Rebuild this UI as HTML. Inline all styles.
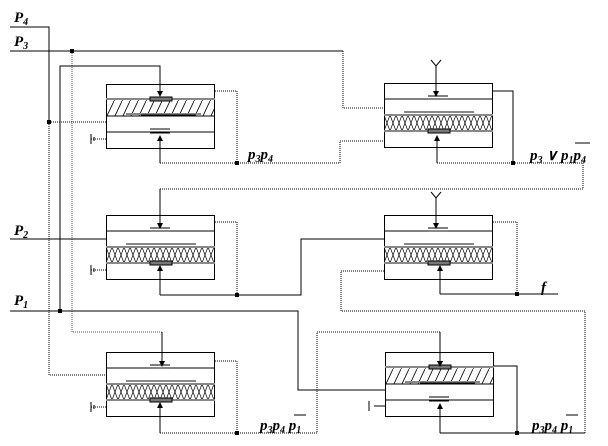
<!DOCTYPE html>
<html><head><meta charset="utf-8"><style>
html,body{margin:0;padding:0;background:#fff}
svg{display:block}
text{font-family:"Liberation Serif",serif;font-weight:bold;font-style:italic;font-size:15px}
</style></head><body>
<svg width="608" height="446" viewBox="0 0 608 446" xmlns="http://www.w3.org/2000/svg">
<defs>
<pattern id="diag" width="8" height="17" patternUnits="userSpaceOnUse">
<path d="M0,17 L8,0" stroke="#000" stroke-width="0.8"/>
</pattern>
<pattern id="xh" width="12" height="16" patternUnits="userSpaceOnUse">
<path d="M0,0 L6,16 L12,0 M0,16 L6,0 L12,16" stroke="#000" stroke-width="0.7" fill="none"/>
</pattern>
<marker id="ar" markerWidth="6" markerHeight="6" refX="5" refY="3" orient="auto"><path d="M0,0 L6,3 L0,6 z" fill="#000"/></marker>
<g id="A">
<rect x="0.5" y="0.5" width="108" height="64" fill="#fff" stroke="#000"/>
<rect x="0.5" y="15" width="108" height="17" fill="url(#diag)"/>
<line x1="0" y1="15" x2="109" y2="15" stroke="#888" stroke-width="2"/>
<line x1="0" y1="32" x2="109" y2="32" stroke="#000"/>
<rect x="44" y="13" width="22" height="4" fill="#777"/>
<line x1="20" y1="30" x2="95" y2="30" stroke="#888" stroke-width="2"/>
<line x1="35" y1="31" x2="90" y2="31" stroke="#000"/>
<line x1="0" y1="48" x2="109" y2="48" stroke="#000"/>
<line x1="44" y1="45" x2="64" y2="45" stroke="#000"/>
<line x1="44" y1="49" x2="64" y2="49" stroke="#000"/>
</g>
<g id="B">
<rect x="0.5" y="0.5" width="108" height="64" fill="#fff" stroke="#000"/>
<line x1="0" y1="16" x2="109" y2="16" stroke="#000"/>
<line x1="44" y1="13" x2="64" y2="13" stroke="#000"/>
<line x1="44" y1="16" x2="64" y2="16" stroke="#888" stroke-width="2"/>
<rect x="0.5" y="32" width="108" height="16" fill="url(#xh)"/>
<line x1="0" y1="32" x2="109" y2="32" stroke="#888" stroke-width="2"/>
<line x1="0" y1="48" x2="109" y2="48" stroke="#888" stroke-width="2"/>
<line x1="20" y1="29" x2="90" y2="29" stroke="#888" stroke-width="2"/>
<rect x="44" y="46" width="22" height="4" fill="#777"/>
</g>
</defs>
<g fill="none" stroke="#000" stroke-width="1">
<use href="#A" x="106" y="84"/>
<use href="#B" x="384" y="83"/>
<use href="#B" x="106" y="215"/>
<use href="#B" x="384" y="215"/>
<use href="#B" x="106" y="352"/>
<use href="#A" x="385" y="352"/>
<path d="M10,27 H49 V120"/>
<path d="M49,120 V375 H106" stroke-dasharray="1,1"/>
<path d="M49,122 H106" stroke-dasharray="1,1"/>
<path d="M10,51 H343"/>
<path d="M343,51 V108 H384" stroke-dasharray="1,1"/>
<path d="M72,51 V332 H162" stroke-dasharray="1,1" stroke="#555"/>
<path d="M162,332 V366" marker-end="url(#ar)"/>
<path d="M60,311 V66 H160 V96" marker-end="url(#ar)"/>
<path d="M10,239 H106"/>
<path d="M10,311 H298 V390 H385"/>
<path d="M215,91 H237 V163" stroke-dasharray="1,1"/>
<path d="M160,163 H340 V141 H384" stroke-dasharray="1,1"/>
<path d="M160,163 V136" marker-end="url(#ar)"/>
<path d="M91,139 H106" stroke-dasharray="1,1"/>
<path d="M436,66 V96" marker-end="url(#ar)"/>
<path d="M431,60 L436,66 L441,60"/>
<path d="M493,91 H513 V163"/>
<path d="M437,163 H583 V189 H160" stroke-dasharray="1,1"/>
<path d="M437,163 V136" marker-end="url(#ar)"/>
<path d="M160,189 V228" marker-end="url(#ar)"/>
<path d="M215,222 H237 V295" stroke-dasharray="1,1"/>
<path d="M160,295 H301 V239 H384"/>
<path d="M160,295 V266" marker-end="url(#ar)"/>
<path d="M91,270 H106" stroke-dasharray="1,1"/>
<path d="M436,198 V228" marker-end="url(#ar)"/>
<path d="M431,192 L436,198 L441,192"/>
<path d="M493,222 H517 V294" stroke-dasharray="1,1"/>
<path d="M440,294 H558"/>
<path d="M440,294 V266" marker-end="url(#ar)"/>
<path d="M384,271 H341 V311 H585 V433" stroke-dasharray="1,1"/>
<path d="M215,361 H237 V433" stroke-dasharray="1,1"/>
<path d="M160,433 H317 V332 H440" stroke-dasharray="1,1"/>
<path d="M440,332 V366" marker-end="url(#ar)"/>
<path d="M160,433 V403" marker-end="url(#ar)"/>
<path d="M91,407 H106" stroke-dasharray="1,1"/>
<path d="M494,366 H517 V433"/>
<path d="M440,433 H585" />
<path d="M440,433 V404" marker-end="url(#ar)"/>
<path d="M374,406 H385"/>
<path d="M91,134 V144 M94,137 V141 M91,265 V275 M94,268 V272 M91,402 V412 M94,405 V409 M369,401 V411"/>
</g>
<g fill="#000">
<rect x="47" y="120" width="4" height="4"/>
<rect x="70" y="49" width="4" height="4"/>
<rect x="58" y="309" width="4" height="4"/>
<rect x="235" y="161" width="4" height="4"/>
<rect x="511" y="161" width="4" height="4"/>
<rect x="235" y="293" width="4" height="4"/>
<rect x="515" y="292" width="4" height="4"/>
<rect x="235" y="431" width="4" height="4"/>
<rect x="515" y="431" width="4" height="4"/>
</g>
<text x="14" y="22">P<tspan font-size="10" dy="3">4</tspan></text>
<text x="14" y="46">P<tspan font-size="10" dy="3">3</tspan></text>
<text x="14" y="235">P<tspan font-size="10" dy="3">2</tspan></text>
<text x="14" y="305">P<tspan font-size="10" dy="3">1</tspan></text>
<text x="248" y="159">p<tspan font-size="10" dy="3">3</tspan><tspan dy="-3">p</tspan><tspan font-size="10" dy="3">4</tspan></text>
<text x="530" y="160">p<tspan font-size="10" dy="3">3</tspan><tspan dy="-3"> ∨ p</tspan><tspan font-size="10" dy="3">1</tspan><tspan dy="-3">p</tspan><tspan font-size="10" dy="3">4</tspan></text>
<line x1="575" y1="143" x2="590" y2="143" stroke="#000"/>
<text x="541" y="292">f</text>
<text x="260" y="430">p<tspan font-size="10" dy="3">3</tspan><tspan dy="-3">p</tspan><tspan font-size="10" dy="3">4</tspan><tspan dy="-3"> p</tspan><tspan font-size="10" dy="3">1</tspan></text>
<line x1="294" y1="415" x2="306" y2="415" stroke="#000"/>
<text x="532" y="430">p<tspan font-size="10" dy="3">3</tspan><tspan dy="-3">p</tspan><tspan font-size="10" dy="3">4</tspan><tspan dy="-3"> p</tspan><tspan font-size="10" dy="3">1</tspan></text>
<line x1="566" y1="415" x2="578" y2="415" stroke="#000"/>
</svg>
</body></html>
